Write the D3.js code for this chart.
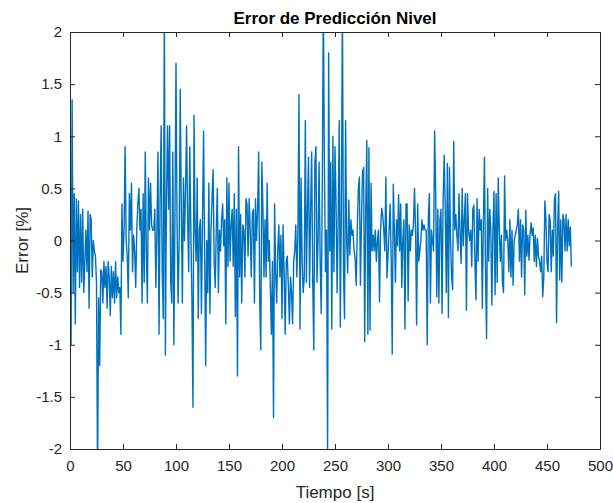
<!DOCTYPE html>
<html>
<head>
    <meta charset='utf-8' />
    <title>Error de Predicción Nivel</title>
    <script src="https://cdn.jsdelivr.net/npm/d3@7"></script>
    <style>
        body { margin: 0; background: #fff; font-family: "Liberation Sans", Arial, sans-serif; }
        .axis text { font-size: 15px; fill: #262626; font-family: "Liberation Sans", Arial, sans-serif; }
        .axis path, .axis line { stroke: #262626; }
    </style>
</head>
<body>
<div id="graphic"></div>
<script>
    var title = "Error de Predicción Nivel";
    var xLabel = "Tiempo [s]";
    var yLabel = "Error [%]";

    var xTicks = [0, 50, 100, 150, 200, 250, 300, 350, 400, 450, 500];
    var yTicks = [-2, -1.5, -1, -0.5, 0, 0.5, 1, 1.5, 2];

    // sample period of the series (s)
    var dt = 1;

    // error values in blocks of ~100 s
    var err000 = [0.0, -1.0, 1.35, -0.5, 0.45, -0.8, 0.4, -0.3, 0.38, -0.45,
        0.25, -0.4, 0.3, -0.5, -0.2, 0.1, -0.3, 0.28, -0.65, 0.25,
        0.2, -0.35, 0.0, -0.1, -0.15, -0.4, -2.3, -0.55, -1.2, -0.28,
        -0.3, -0.6, -0.2, -0.45, -0.25, -0.65, -0.2, -0.35, -0.72, -0.25,
        -0.55, -0.3, -0.6, -0.2, -0.55, -0.35, -0.5, -0.45, -0.9, 0.35,
        -0.2, 0.1, 0.9, 0.0, -0.15, -0.55, 0.45, 0.1, 0.55, -0.3,
        0.05, -0.1, -0.45, 0.1, 0.35, 0.5, 0.1, 0.3, -0.6, 0.45,
        -0.4, 0.85, -0.1, -0.6, 0.6, 0.1, 0.55, 0.15, 0.1, 0.1,
        0.3, -0.45, 0.1, 0.85, -0.9, 0.4, 1.1, -0.3, -0.75, 2.3,
        -1.1, 0.4, 1.1, 0.3, 1.1, -0.4, -0.6, 0.85, -1.0, 0.2];
    var err100 = [1.7, 0.15, -0.6, 0.0, 1.45, 0.3, -0.6, 0.6, 0.0, 0.5,
        1.1, 0.2, -0.3, 0.9, 0.1, -0.55, -1.6, 1.2, 0.1, -0.2,
        0.6, -0.75, 0.1, 0.2, -0.7, 0.2, 1.05, -0.1, -1.2, 0.0,
        -0.5, 0.55, -0.7, 0.1, 0.4, 0.68, -0.2, -0.45, 0.1, 0.5,
        -0.5, 0.1, -0.1, 0.2, 0.35, -0.05, 0.2, -0.8, 0.6, -0.25,
        0.55, -0.2, 0.15, 0.3, -0.25, 0.45, -0.73, 0.3, -1.3, 0.9,
        -0.35, 0.25, -0.6, 0.15, 0.1, -0.35, 0.4, 0.35, -0.15, 0.4,
        0.1, -0.35, 0.25, 0.3, -0.6, 0.4, 0.0, 0.3, 0.85, -0.6,
        -1.05, 0.75, 0.3, -0.35, 0.2, -0.35, 0.55, -0.2, 0.0, -0.45,
        -0.9, -0.2, -1.7, 0.35, -0.3, -0.6, -0.1, 0.15, -0.35, 0.05];
    var err200 = [-0.75, 0.15, -0.3, -0.9, -0.2, -0.15, -0.45, -0.8, -0.35, -0.5,
        -0.8, -0.2, -0.1, 0.15, -0.35, 0.05, 1.4, -0.85, 0.6, -0.2,
        -0.5, -0.35, 1.15, -0.4, 0.3, 0.8, -0.45, 0.3, 0.85, -0.4,
        -1.05, 0.75, 0.9, -0.4, 0.0, 0.75, -0.2, -0.7, 0.5, 2.3,
        0.75, -0.3, 0.1, -2.05, 1.8, -0.1, 0.75, -0.85, 1.0, -0.3,
        0.9, 0.35, -0.5, 0.2, 1.15, -0.83, 0.3, 2.3, -0.3, -0.75,
        1.15, 0.0, -0.31, 0.39, -0.14, 0.2, 0.05, 0.1, -0.1, -0.17,
        -0.43, 0.1, 0.5, 0.61, -0.43, 0.2, 0.66, 0.7, -0.97, 0.3,
        0.96, -0.9, 0.89, -0.86, 0.55, -0.1, 0.05, -0.1, 0.1, -0.2,
        0.0, 0.1, -0.59, 0.1, 0.31, 0.25, 0.1, -0.1, 0.61, -0.36];
    var err300 = [-0.15, 0.1, 0.35, -0.15, -1.09, 0.54, 0.1, -0.4, 0.2, -0.05,
        0.44, -0.1, 0.35, -0.45, 0.0, 0.2, -0.85, 0.35, 0.35, -0.58,
        0.15, -0.1, 0.1, 0.05, 0.15, 0.5, 0.1, -0.81, 0.35, -0.2,
        -0.1, 0.0, 0.2, 0.1, 0.15, 0.1, 0.1, -1.0, 0.2, 0.45,
        -0.6, 0.1, 0.0, -0.1, 1.05, 0.45, -0.54, 0.3, -0.6, 0.2,
        0.3, -0.7, 0.4, 0.82, 0.3, -0.5, 0.74, -0.74, 0.7, 0.0,
        -0.35, -0.47, 0.95, 0.1, 0.25, 0.05, -0.1, 0.45, 0.05, -0.22,
        0.5, -0.05, 0.2, 0.45, -0.67, 0.45, 0.1, 0.0, 0.1, -0.25,
        0.3, 0.34, -0.2, -0.57, 0.4, -0.2, 0.3, 0.1, 0.2, -0.65,
        0.2, 0.8, -0.3, -0.94, 0.5, -0.2, 0.3, 0.1, -0.62, 0.1];
    var err400 = [0.47, -0.52, 0.45, -0.4, 0.6, 0.1, -0.2, 0.05, -0.4, -0.5,
        0.62, 0.0, 0.1, 0.0, -0.3, 0.2, -0.35, 0.1, -0.43, 0.0,
        0.05, 0.1, 0.15, 0.3, -0.2, 0.2, -0.35, 0.15, 0.1, -0.52,
        0.29, -0.15, 0.05, -0.19, 0.05, 0.17, 0.05, 0.12, -0.2, 0.05,
        -0.25, 0.02, -0.15, -0.2, -0.3, -0.15, -0.54, -0.35, 0.38, 0.2,
        -0.2, -0.3, 0.25, 0.2, -0.3, 0.1, -0.15, 0.39, 0.45, -0.79,
        0.1, 0.47, -0.38, 0.2, -0.4, 0.25, 0.2, -0.1, 0.25, -0.1,
        0.2, -0.05, 0.13, -0.25];

    var errors = err000.concat(err100, err200, err300, err400);
    var dataset = errors.map(function (e, i) { return { t: i * dt, e: e }; });

    var width = 613, height = 503;
    var top_margin = 32, right_margin = 13, bottom_margin = 54, left_margin = 70;
    var w = width - left_margin - right_margin;
    var h = height - top_margin - bottom_margin;

    var svg = d3.select("#graphic").append("svg")
        .attr("width", width)
        .attr("height", height);

    var g = svg.append("g")
        .attr("transform", "translate(" + left_margin + "," + top_margin + ")");

    var x = d3.scaleLinear().domain([0, 500]).range([0, w]);
    var y = d3.scaleLinear().domain([-2, 2]).range([h, 0]);

    g.append("defs").append("clipPath").attr("id", "clip")
        .append("rect").attr("width", w).attr("height", h);

    g.append("rect").attr("width", w).attr("height", h).attr("fill", "#fff");

    var line = d3.line()
        .x(function (d) { return x(d.t); })
        .y(function (d) { return y(d.e); });

    g.append("path")
        .datum(dataset)
        .attr("clip-path", "url(#clip)")
        .attr("fill", "none")
        .attr("stroke", "#0072BD")
        .attr("stroke-width", 1.4)
        .attr("stroke-linejoin", "round")
        .attr("d", line);

    // axes, ticks inward as in MATLAB
    g.append("g").attr("class", "axis")
        .attr("transform", "translate(0," + h + ")")
        .call(d3.axisBottom(x).tickValues(xTicks).tickSize(-5).tickPadding(11).tickSizeOuter(0));
    g.append("g").attr("class", "axis")
        .call(d3.axisTop(x).tickValues(xTicks).tickSize(-5).tickFormat("").tickSizeOuter(0));
    g.append("g").attr("class", "axis")
        .call(d3.axisLeft(y).tickValues(yTicks).tickSize(-5).tickPadding(8).tickSizeOuter(0)
            .tickFormat(function (d) { return d; }));
    g.append("g").attr("class", "axis")
        .attr("transform", "translate(" + w + ",0)")
        .call(d3.axisRight(y).tickValues(yTicks).tickSize(-5).tickFormat("").tickSizeOuter(0));

    g.selectAll(".axis path").attr("stroke-width", 1);

    svg.append("text")
        .attr("x", left_margin + w / 2)
        .attr("y", 24)
        .attr("text-anchor", "middle")
        .style("font-size", "17px")
        .style("font-weight", "bold")
        .attr("fill", "#000")
        .text(title);

    svg.append("text")
        .attr("x", left_margin + w / 2)
        .attr("y", 498)
        .attr("text-anchor", "middle")
        .style("font-size", "17px")
        .attr("fill", "#262626")
        .text(xLabel);

    svg.append("text")
        .attr("transform", "translate(28," + (top_margin + h / 2) + ") rotate(-90)")
        .attr("text-anchor", "middle")
        .style("font-size", "17px")
        .attr("fill", "#262626")
        .text(yLabel);
</script>
</body>
</html>
